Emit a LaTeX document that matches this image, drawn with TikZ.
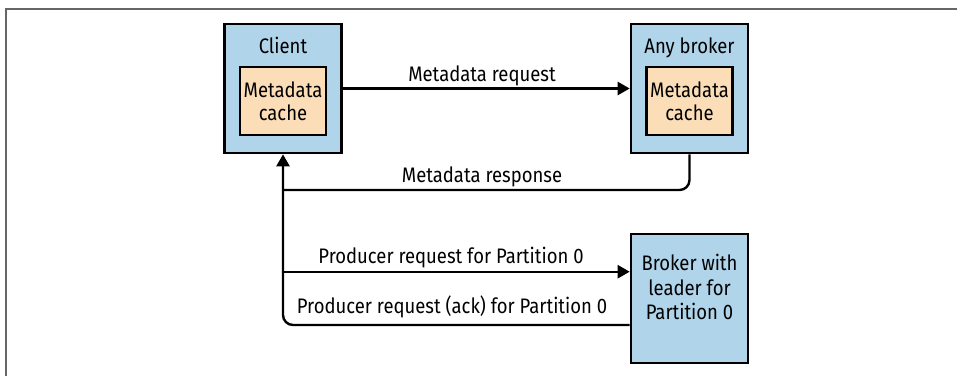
\documentclass[tikz,border=0pt]{standalone}
\usepackage{fontspec}
\setmainfont{Fira Sans}[FakeStretch=0.88]
\usetikzlibrary{arrows.meta}
\definecolor{boxblue}{HTML}{B0D4EA}
\definecolor{boxorange}{HTML}{FBDDB8}
\definecolor{framegray}{HTML}{666666}
\tikzset{
  outerbox/.style={draw=black, fill=boxblue, line width=2.6pt, minimum width=117pt, minimum height=129pt, inner sep=0pt},
  innerbox/.style={draw=black, fill=boxorange, line width=2.6pt, minimum width=86pt, minimum height=68pt, inner sep=0pt, align=center},
  lbl/.style={inner sep=0pt, anchor=base},
  conn/.style={line width=2.4pt, draw=black},
  arr/.style={conn, -{Triangle[length=12pt,width=13pt]}},
  every node/.style={font=\fontsize{21}{22.5}\selectfont}
}
\begin{document}
\begin{tikzpicture}[x=1pt,y=-1pt]
\useasboundingbox (0,0) rectangle (957,376);
% frame
\draw[framegray, line width=2pt] (6,376) -- (6,9) -- (957,9);
% boxes
\node[outerbox] (client) at (283,88.5) {};
\node[lbl] (clientlbl) at (283,53.3) {Client};
\node[innerbox] (ccache) at (283,101) {Metadata\\cache};
\node[outerbox] (anyb) at (689.5,88.5) {};
\node[lbl] (anyblbl) at (689.5,53.3) {Any broker};
\node[innerbox] (acache) at (689.5,101) {Metadata\\cache};
\node[outerbox] (leader) at (689.5,298.5) {};
\node[inner sep=0pt, align=center, anchor=north, font=\fontsize{21}{24.5}\selectfont] (leaderlbl) at (689.5,254) {Broker with\\leader for\\Partition 0};
% connectors
\coordinate (j1) at (283,190);
\coordinate (j2) at (283,271.7);
\draw[arr] (client) -- (anyb);
\node[lbl] (reqlbl) at (482,81) {Metadata request};
\draw[conn, rounded corners=10pt] (anyb.south) |- (j1);
\node[lbl] (resplbl) at (482,182.5) {Metadata response};
\draw[arr] (j2) -- (j2 -| leader.west);
\node[lbl] (prodlbl) at (451,263.3) {Producer request for Partition 0};
\draw[arr, rounded corners=10pt] ([yshift=-26.5pt]leader.west) -| (client.south);
\node[lbl] (acklbl) at (452,313.3) {Producer request (ack) for Partition 0};
\end{tikzpicture}
\end{document}
